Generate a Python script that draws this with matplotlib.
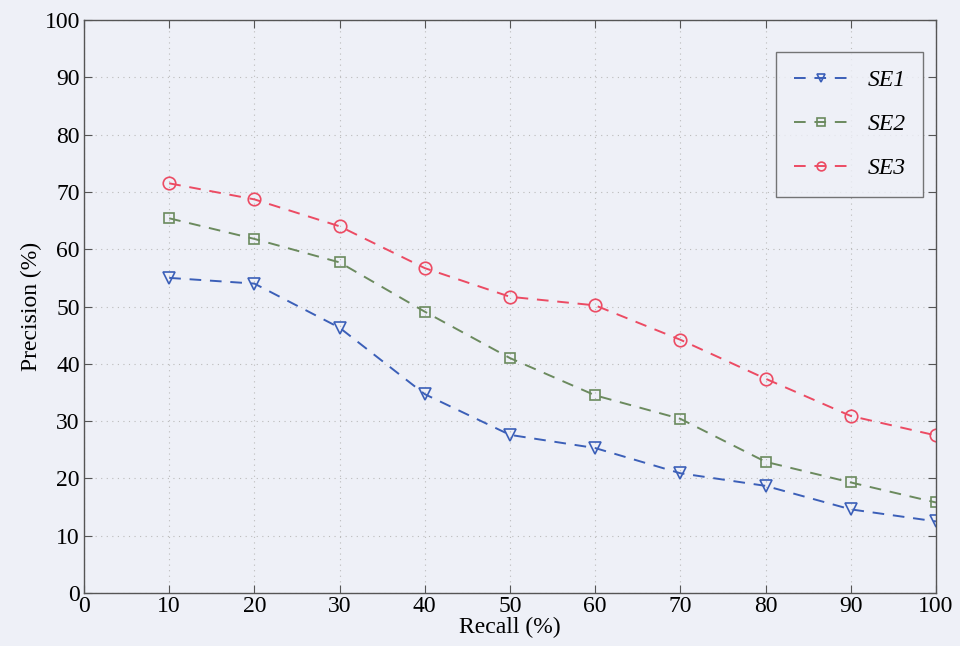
import numpy as np
import matplotlib
matplotlib.use('Agg')
import matplotlib.pyplot as plt

recall = [10, 20, 30, 40, 50, 60, 70, 80, 90, 100]
se1 = [55.0, 54.0, 46.3, 34.7, 27.6, 25.3, 20.9, 18.7, 14.6, 12.5]
se2 = [65.4, 61.8, 57.7, 49.1, 41.0, 34.5, 30.4, 22.9, 19.3, 15.8]
se3 = [71.5, 68.7, 64.0, 56.7, 51.7, 50.2, 44.2, 37.4, 30.9, 27.5]
names = ['SE1', 'SE2', 'SE3']

plt.rcParams['font.family'] = ['Liberation Serif', 'DejaVu Serif']
bg = '#eef0f7'

fig = plt.figure(figsize=(9.6, 6.46), dpi=100, facecolor=bg)
ax = fig.add_axes([0.0875, 0.082, 0.8875, 0.887])
ax.set_facecolor(bg)

styles = [('#3b5fb8', 'v', 9), ('#6b8a5e', 's', 7.5), ('#ec4b63', 'o', 9)]
for ys, name, (c, m, ms) in zip([se1, se2, se3], names, styles):
    ax.plot(recall, ys, linestyle=(0, (6, 4.5)), color=c, lw=1.4,
            marker=m, markersize=ms, markerfacecolor='none',
            markeredgecolor=c, markeredgewidth=1.2, label=name)

ax.set_xlim(0, 100)
ax.set_ylim(0, 100)
ax.set_xticks(np.arange(0, 101, 10))
ax.set_yticks(np.arange(0, 101, 10))
ax.tick_params(direction='in', top=True, right=True, length=6, labelsize=17,
               color='#555555', pad=3)
ax.tick_params(axis='x', pad=2)
for s in ax.spines.values():
    s.set_color('#555555')
    s.set_linewidth(1.0)
ax.grid(True, linestyle=(0, (1, 4)), color='#bbbbbb', lw=0.8)
ax.set_xlabel('Recall (%)', fontsize=17, labelpad=0)
ax.set_ylabel('Precision (%)', fontsize=17, labelpad=2)

leg = ax.legend(loc='upper right', bbox_to_anchor=(0.985, 0.944),
                borderaxespad=0,
                prop={'style': 'italic', 'size': 17}, frameon=True,
                fancybox=False, edgecolor='#555555', facecolor=bg,
                handlelength=2.3, labelspacing=0.95, borderpad=0.75,
                handletextpad=0.8, markerscale=0.7)
leg.get_frame().set_linewidth(1.0)

fig.savefig('out.png', dpi=100, facecolor=bg)
